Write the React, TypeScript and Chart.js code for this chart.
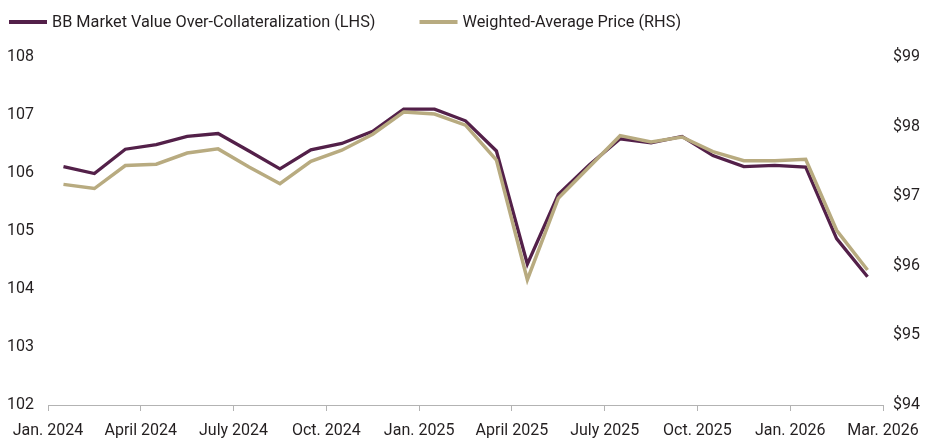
import React, { useEffect, useRef } from "react";
import { Chart, registerables } from "chart.js";

Chart.register(...registerables);

// ---- Data ----
const months = [
  "Jan. 2024", "Feb. 2024", "Mar. 2024", "Apr. 2024", "May 2024", "Jun. 2024",
  "Jul. 2024", "Aug. 2024", "Sep. 2024", "Oct. 2024", "Nov. 2024", "Dec. 2024",
  "Jan. 2025", "Feb. 2025", "Mar. 2025", "Apr. 2025", "May 2025", "Jun. 2025",
  "Jul. 2025", "Aug. 2025", "Sep. 2025", "Oct. 2025", "Nov. 2025", "Dec. 2025",
  "Jan. 2026", "Feb. 2026", "Mar. 2026",
];

const overCollateralization = [
  106.11, 105.99, 106.41, 106.49, 106.63, 106.68, 106.38, 106.07, 106.4,
  106.51, 106.72, 107.1, 107.1, 106.9, 106.38, 104.43, 105.63, 106.14,
  106.59, 106.52, 106.63, 106.3, 106.11, 106.13, 106.1, 104.87, 104.21,
];

const weightedAvgPrice = [
  97.17, 97.11, 97.44, 97.46, 97.62, 97.68, 97.42, 97.18, 97.5,
  97.66, 97.89, 98.21, 98.18, 98.02, 97.52, 95.8, 96.97, 97.42,
  97.87, 97.78, 97.85, 97.64, 97.51, 97.51, 97.53, 96.51, 95.94,
];

const xTickLabels = [
  "Jan. 2024", "April 2024", "July 2024", "Oct. 2024", "Jan. 2025",
  "April 2025", "July 2025", "Oct. 2025", "Jan. 2026", "Mar. 2026",
];

const seriesLabels = [
  "BB Market Value Over-Collateralization (LHS)",
  "Weighted-Average Price (RHS)",
];

// ---- Styles ----
const FONT = "Roboto, sans-serif";
const TEXT = "#231f20";
const PURPLE = "#532049";
const TAN = "#b8ab80";
const AXIS = "#b3b3b3";
const FS = 16;
const LEGEND_FS = 16.3;

const legendPlugin = {
  id: "customLegend",
  afterDraw(chart: any) {
    const ctx = chart.ctx;
    ctx.save();
    ctx.font = `${LEGEND_FS}px ${FONT}`;
    ctx.textBaseline = "middle";
    ctx.textAlign = "left";
    let x = 9;
    const y = 22;
    chart.data.datasets.forEach((ds: any) => {
      ctx.fillStyle = ds.borderColor;
      ctx.fillRect(x, y - 2, 38, 4);
      ctx.fillStyle = TEXT;
      ctx.fillText(ds.label, x + 43, y + 1);
      x += 43 + ctx.measureText(ds.label).width + 44;
    });
    ctx.restore();
  },
};

export default function App() {
  const canvasRef = useRef<HTMLCanvasElement | null>(null);

  useEffect(() => {
    document.body.style.margin = "0";
    if (!canvasRef.current) return;
    Chart.defaults.font.family = FONT;
    const chart = new Chart(canvasRef.current, {
      type: "line",
      data: {
        datasets: [
          {
            label: seriesLabels[0],
            data: overCollateralization.map((v, i) => ({ x: i + 0.5, y: v })),
            yAxisID: "y",
            borderColor: PURPLE,
            backgroundColor: PURPLE,
            borderWidth: 3.3,
            pointRadius: 0,
            tension: 0,
            order: 2,
          },
          {
            label: seriesLabels[1],
            data: weightedAvgPrice.map((v, i) => ({ x: i + 0.5, y: v })),
            yAxisID: "y1",
            borderColor: TAN,
            backgroundColor: TAN,
            borderWidth: 3.5,
            pointRadius: 0,
            tension: 0,
            order: 1,
          },
        ],
      },
      options: {
        animation: false,
        responsive: true,
        maintainAspectRatio: false,
        layout: { padding: { top: 57, left: 0, right: 0, bottom: 0 } },
        plugins: {
          legend: { display: false },
          tooltip: { enabled: false },
        },
        scales: {
          x: {
            type: "linear",
            min: 0,
            max: months.length,
            afterBuildTicks: (s: any) => {
              s.ticks = xTickLabels.map((_, k) => ({ value: k * 3 }));
            },
            ticks: {
              autoSkip: false,
              maxRotation: 0,
              minRotation: 0,
              padding: 10,
              color: TEXT,
              font: { size: FS },
              callback: (_v: any, i: number) => xTickLabels[i] ?? "",
            },
            grid: {
              display: true,
              drawOnChartArea: false,
              drawTicks: true,
              tickLength: 6,
              color: AXIS,
              lineWidth: 1,
            },
            border: { display: true, color: AXIS, width: 1 },
            afterFit: (s: any) => {
              s.height = 37;
              s.paddingLeft = 0;
              s.paddingRight = 0;
            },
          },
          y: {
            position: "left",
            min: 102,
            max: 108,
            ticks: {
              stepSize: 1,
              padding: 14,
              color: TEXT,
              font: { size: FS },
            },
            grid: { display: false, drawTicks: false, tickLength: 0 },
            border: { display: false },
            afterFit: (s: any) => {
              s.width = 48;
            },
          },
          y1: {
            position: "right",
            min: 94,
            max: 99,
            ticks: {
              stepSize: 1,
              padding: 10,
              color: TEXT,
              font: { size: FS },
              callback: (v: any) => "$" + v,
            },
            grid: { display: false, drawTicks: false, tickLength: 0 },
            border: { display: false },
            afterFit: (s: any) => {
              s.width = 42;
            },
          },
        },
      },
      plugins: [legendPlugin],
    } as any);
    return () => chart.destroy();
  }, []);

  return (
    <div style={{ width: 925, height: 442, position: "relative", background: "#fff" }}>
      <canvas ref={canvasRef} />
    </div>
  );
}
